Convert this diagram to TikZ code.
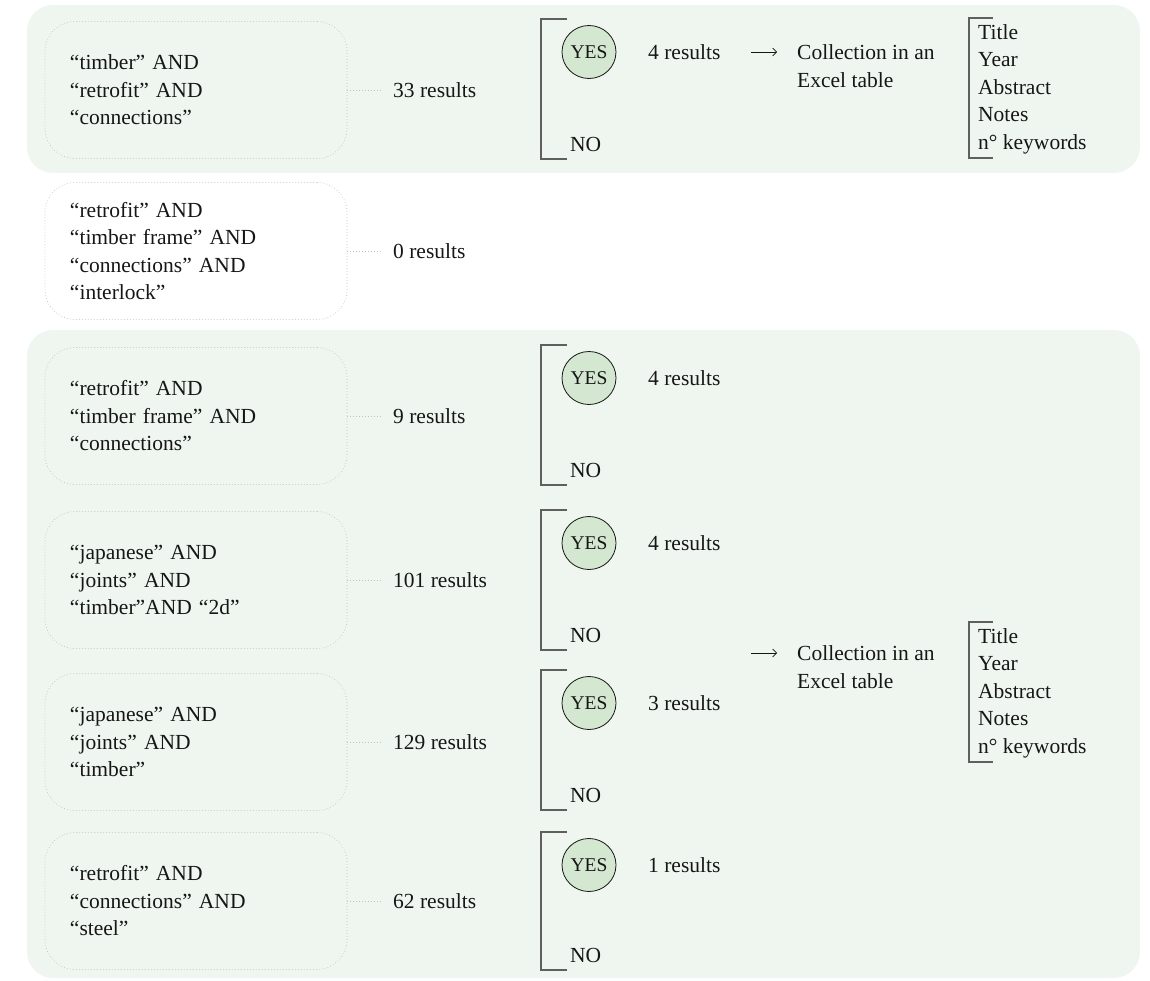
\documentclass[tikz,border=0pt]{standalone}
\usepackage{fontspec}
\setmainfont{Liberation Serif}
\usetikzlibrary{arrows.meta,shapes.geometric}

\definecolor{panelgreen}{RGB}{239,246,239}
\definecolor{yesgreen}{RGB}{212,232,209}
\definecolor{ink}{RGB}{22,22,22}
\definecolor{rulegray}{RGB}{95,95,95}
\definecolor{dotgray}{RGB}{190,195,190}

\newcommand\figfont{\fontsize{21.5bp}{27.5bp}\selectfont}
\newcommand\yesfont{\fontsize{19.5bp}{24bp}\selectfont}

\tikzset{
  panel/.style={fill=panelgreen, draw=none, rounded corners=26bp},
  qbox/.style={draw=dotgray, line width=0.7bp, dash pattern=on 0.7bp off 2.3bp,
    rounded corners=30bp, text width=252bp, inner xsep=25bp, inner ysep=0pt,
    minimum height=137bp, align=left, font=\figfont, text=ink},
  lbl/.style={inner sep=0pt, anchor=west, font=\figfont, text=ink},
  listing/.style={lbl, align=left},
  yesnode/.style={ellipse, draw=ink, line width=0.8bp, fill=yesgreen,
    minimum width=54bp, minimum height=53bp, inner xsep=-3bp, inner ysep=0pt,
    font=\yesfont, text=ink},
  link/.style={draw=dotgray, line width=0.7bp, dash pattern=on 0.7bp off 2.3bp, shorten >=10bp},
  brk/.style={draw=rulegray, line width=1.3bp},
  flow/.style={draw=ink, line width=0.7bp, shorten >=20bp, -{Straight Barb[length=4bp,width=8bp]}}
}

\begin{document}
\begin{tikzpicture}[x=1bp,y=-1bp]
\useasboundingbox (0,0) rectangle (1150,981);

% background panels
\fill[panel] (27,5) rectangle (1140,173);
\fill[panel] (27,330) rectangle (1140,978);

% search queries
\node[qbox] (q1) at (196,90) {“timber” AND\\“retrofit” AND\\“connections”};
\node[qbox] (q2) at (196,251) {“retrofit” AND\\“timber frame” AND\\“connections” AND\\“interlock”};
\node[qbox] (q3) at (196,416) {“retrofit” AND\\“timber frame” AND\\“connections”};
\node[qbox] (q4) at (196,580) {“japanese” AND\\“joints” AND\\“timber”AND “2d”};
\node[qbox] (q5) at (196,742) {“japanese” AND\\“joints” AND\\“timber”};
\node[qbox] (q6) at (196,901) {“retrofit” AND\\“connections” AND\\“steel”};

% hit counts
\node[lbl] (r1) at (393,90) {33 results};
\node[lbl] (r2) at (393,251) {0 results};
\node[lbl] (r3) at (393,416) {9 results};
\node[lbl] (r4) at (393,580) {101 results};
\node[lbl] (r5) at (393,742) {129 results};
\node[lbl] (r6) at (393,901) {62 results};

\foreach \i in {1,...,6} \draw[link] (q\i.east) -- (r\i.west);

% YES / NO decisions
\foreach \n/\top/\bot/\cnt in {1/19/159/4, 3/345/485/4, 4/510/650/4, 5/670/810/3, 6/832/970/1}{
  \draw[brk] (567,\top) -- (541,\top) -- (541,\bot) -- (567,\bot);
  \node[yesnode] (yes\n) at (589,\top+33) {YES};
  \node[lbl] (sel\n) at (648,\top+33) {\cnt\ results};
  \node[lbl] (no\n) at (570,\bot-15) {NO};
}

% collection step, first group
\coordinate (a1) at (751,52);
\node[lbl, align=left] (col1) at (797,66) {Collection in an\\Excel table};
\draw[flow] (a1) -- (a1 -| col1.west);
\draw[brk] (993,18) -- (969,18) -- (969,158) -- (993,158);
\node[listing] (f1) at (978,89) {Title\\Year\\Abstract\\Notes\\n° keywords};

% collection step, second group
\coordinate (a2) at (751,653);
\node[lbl, align=left] (col2) at (797,667) {Collection in an\\Excel table};
\draw[flow] (a2) -- (a2 -| col2.west);
\draw[brk] (993,622) -- (969,622) -- (969,762) -- (993,762);
\node[listing] (f2) at (978,693) {Title\\Year\\Abstract\\Notes\\n° keywords};
\end{tikzpicture}
\end{document}
